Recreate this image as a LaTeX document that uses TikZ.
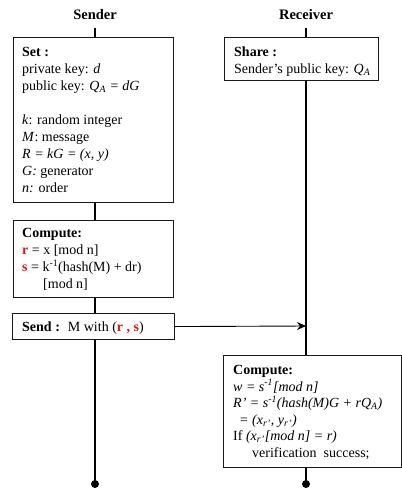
\documentclass[tikz,border=0pt]{standalone}
\usepackage{fontspec}
\setmainfont{Liberation Serif}
\usetikzlibrary{arrows.meta}
\definecolor{kred}{RGB}{235,20,20}
\begin{document}
\begin{tikzpicture}[x=1pt,y=-1pt,
  head/.style={font=\fontsize{14.5}{17}\selectfont\bfseries, inner sep=0pt},
  box/.style={draw=black!90, line width=1.1pt, fill=white, anchor=north west, inner sep=0pt},
  txt/.style={anchor=north west, inner sep=0pt, align=left, font=\fontsize{14}{17}\selectfont},
  txtb/.style={anchor=north west, inner sep=0pt, align=left, font=\fontsize{14}{16.5}\selectfont},
  life/.style={line width=2.6pt, black},
  msg/.style={line width=0.9pt, -{Stealth[length=9pt,width=8pt]}}]
\useasboundingbox (0,0) rectangle (402,488);
% headers
\node[head] (sender) at (95,15) {Sender};
\node[head] (receiver) at (306,15) {Receiver};
% lifelines
\coordinate (sTop) at (95,28);
\coordinate (sEnd) at (95,484);
\coordinate (rTop) at (306,28);
\coordinate (rEnd) at (306,484);
\draw[life] (sTop) -- (sEnd);
\draw[life] (rTop) -- (rEnd);
\fill (sEnd) circle (4);
\fill (rEnd) circle (4);
% sender boxes
\node[box, minimum width=160pt, minimum height=165pt] (set) at (13,37) {};
\node[txt] (settext) at (22,47.2) {\textbf{Set :}\\
private key: \textit{d}\\
public key: \textit{Q\textsubscript{A} = dG}\\[17pt]
\textit{k}: random integer\\
\textit{M}: message\\
\textit{R = kG = (x, y)}\\
\textit{G:} generator\\
\textit{n:} order};
\node[box, minimum width=160pt, minimum height=77pt] (comp) at (13,220) {};
\node[txt] (comptext) at (22,228.2) {\textbf{Compute:}\\
\textcolor{kred}{\textbf{r}} = x [mod n]\\
\textcolor{kred}{\textbf{s}} = k\textsuperscript{-1}(hash(M) + dr)\\
\hspace*{21pt}[mod n]};
\node[box, minimum width=162pt, minimum height=26pt] (send) at (12,313) {};
\node[txt] (sendtext) at (22,321.2) {\textbf{Send :}\hspace{8pt}M with (\textcolor{kred}{\textbf{r , s}})};
% receiver boxes
\node[box, minimum width=154pt, minimum height=43pt] (share) at (224,37) {};
\node[txt] (sharetext) at (234,46.2) {\textbf{Share :}\\
Sender’s public key: \textit{Q\textsubscript{A}}};
\node[box, minimum width=178pt, minimum height=112pt] (rcomp) at (223,355) {};
\node[txtb] (rcomptext) at (233,365.2) {\textbf{Compute:}\\
\textit{w = s\textsuperscript{-1}[mod n]}\\
\textit{R’ = s\textsuperscript{-1}(hash(M)G + rQ\textsubscript{A})}\\
\hspace*{6pt}\textit{= (x\textsubscript{r’}, y\textsubscript{r’})}\\
If \textit{(x\textsubscript{r’}[mod n] = r)}\\
\hspace*{19pt}verification\ \ success;};
% message
\coordinate (rArr) at (306,326);
\draw[msg] (send.east) -- (rArr);
\end{tikzpicture}
\end{document}
